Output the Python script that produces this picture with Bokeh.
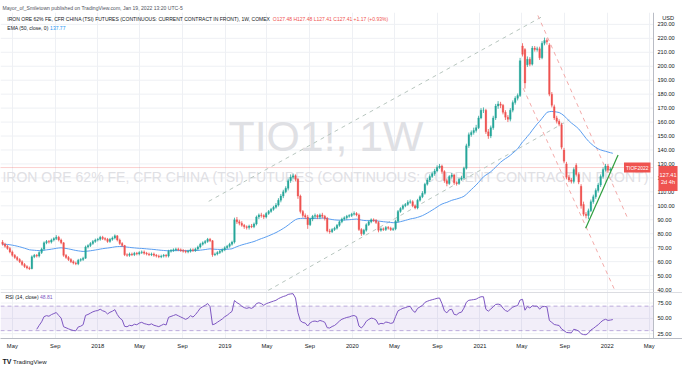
import numpy as np
import pandas as pd
from bokeh.plotting import figure
from bokeh.layouts import column
from bokeh.models import (Range1d, FixedTicker, Label, Span, Title,
                          BoxAnnotation, Grid, ColumnDataSource)
from bokeh.core.properties import value
from bokeh.embed import file_html
from bokeh.resources import INLINE

# ---------------- data (weekly bars) ----------------
week0 = "2017-04-03"
opens = [74.0, 72.5, 71.0, 69.5, 67.0, 64.5, 63.0, 61.5, 60.0, 58.0,
         56.5, 55.5, 55.0, 63.5, 64.5, 64.0, 66.5, 69.0, 73.5, 74.5,
         74.0, 75.5, 76.5, 77.5, 75.5, 73.5, 64.5, 63.0, 61.5, 60.0,
         59.0, 58.5, 61.0, 61.5, 62.5, 70.5, 71.5, 73.0, 74.5, 75.5,
         76.0, 77.5, 76.5, 76.0, 74.5, 76.0, 77.0, 78.5, 75.5, 73.0,
         71.5, 65.0, 64.5, 65.5, 65.0, 66.0, 65.5, 66.5, 67.0, 66.0,
         65.5, 65.0, 65.5, 64.5, 64.0, 63.5, 64.0, 64.5, 64.0, 67.5,
         68.0, 68.5, 69.0, 68.5, 68.0, 67.5, 67.0, 67.5, 68.5, 68.0,
         69.0, 70.5, 72.5, 73.5, 74.5, 76.0, 75.0, 65.0, 65.5, 66.5,
         67.5, 68.5, 70.0, 71.0, 72.5, 74.0, 90.0, 88.5, 87.5, 86.0,
         85.0, 84.5, 85.5, 85.0, 87.0, 92.0, 93.5, 93.0, 92.0, 94.5,
         96.0, 97.5, 99.0, 100.5, 104.0, 107.0, 110.0, 112.5, 118.0, 120.5,
         121.5, 119.0, 107.0, 96.0, 93.0, 92.0, 86.5, 90.5, 92.5, 93.0,
         92.0, 93.5, 92.5, 91.0, 82.0, 81.5, 83.0, 84.0, 86.0, 88.5,
         90.5, 91.5, 92.5, 93.0, 94.0, 94.5, 93.5, 83.0, 80.0, 82.5,
         86.5, 88.5, 90.0, 89.5, 88.0, 82.5, 83.5, 83.0, 84.5, 84.0,
         83.0, 83.5, 89.0, 96.0, 98.0, 100.0, 101.0, 102.5, 103.0, 100.0,
         98.5, 104.0, 106.5, 109.0, 115.5, 118.5, 121.0, 123.0, 125.0, 127.5,
         128.5, 124.5, 118.0, 116.0, 121.0, 122.0, 116.5, 116.0, 119.0, 120.0,
         127.0, 143.0, 151.0, 152.5, 154.0, 156.0, 163.0, 168.5, 168.5, 153.0,
         150.0, 156.0, 163.0, 171.5, 173.0, 172.0, 167.0, 163.5, 162.0, 168.5,
         174.0, 177.0, 179.0, 214.5, 212.0, 201.0, 205.0, 201.5, 213.0, 212.0,
         212.5, 206.0, 216.5, 218.5, 215.0, 180.0, 171.0, 163.0, 160.5, 158.0,
         140.0, 130.0, 120.5, 118.5, 117.5, 129.0, 122.5, 114.0, 101.0, 94.0,
         93.0, 96.5, 103.0, 106.5, 111.0, 115.0, 121.0, 126.0, 128.5, 125.5,
         127.48]
highs = [75.5, 73.5, 72.0, 70.5, 68.0, 65.5, 64.0, 62.5, 61.0, 59.0,
         57.5, 56.5, 64.5, 65.5, 65.5, 67.5, 70.0, 74.5, 75.5, 75.5,
         76.5, 77.5, 79.0, 78.5, 76.5, 74.0, 65.5, 64.0, 62.5, 61.0,
         60.0, 62.0, 62.5, 63.5, 71.5, 72.5, 74.0, 75.5, 76.5, 77.0,
         78.5, 78.5, 77.5, 77.0, 77.0, 78.0, 79.5, 79.0, 76.5, 74.0,
         72.0, 66.0, 66.5, 66.5, 67.0, 67.0, 67.5, 68.0, 68.0, 67.0,
         66.5, 66.5, 66.5, 65.5, 65.0, 65.0, 65.5, 65.5, 68.5, 69.0,
         69.5, 70.0, 70.0, 69.5, 69.0, 68.5, 68.5, 69.5, 69.5, 70.0,
         71.5, 73.5, 74.5, 75.5, 77.0, 77.0, 75.5, 66.5, 67.5, 68.5,
         69.5, 71.0, 72.0, 73.5, 75.0, 91.5, 92.0, 90.0, 89.0, 87.0,
         86.0, 86.5, 87.0, 88.0, 93.0, 94.5, 95.0, 94.0, 95.5, 97.0,
         98.5, 100.0, 102.0, 105.5, 108.5, 111.5, 114.0, 119.5, 122.5, 123.0,
         122.5, 120.0, 108.0, 97.0, 94.5, 93.5, 91.5, 93.5, 94.5, 94.0,
         94.5, 95.0, 93.5, 92.0, 83.5, 84.0, 85.0, 87.0, 89.5, 91.5,
         92.5, 93.5, 94.0, 95.0, 96.0, 95.5, 94.5, 84.0, 83.5, 87.5,
         89.5, 91.0, 91.0, 90.5, 89.0, 84.5, 84.5, 85.5, 85.5, 85.0,
         84.5, 90.0, 97.0, 99.0, 101.0, 102.0, 104.0, 104.5, 104.0, 101.0,
         105.0, 107.5, 110.5, 116.5, 120.0, 122.5, 124.5, 126.5, 129.0, 130.0,
         129.5, 125.5, 119.5, 122.0, 123.5, 123.0, 117.5, 120.0, 121.5, 128.0,
         144.5, 152.5, 154.0, 156.0, 158.0, 164.5, 170.0, 170.5, 169.5, 155.0,
         157.5, 164.5, 173.0, 175.0, 174.5, 173.0, 168.5, 165.0, 170.0, 175.5,
         178.5, 180.5, 206.0, 216.5, 213.0, 207.0, 206.5, 214.5, 214.5, 214.0,
         214.0, 218.0, 220.5, 220.0, 216.5, 181.5, 172.5, 164.5, 162.0, 159.5,
         141.5, 131.5, 122.0, 120.0, 127.5, 130.5, 124.0, 115.5, 103.0, 95.5,
         98.0, 104.5, 108.0, 112.5, 116.5, 122.5, 127.5, 130.0, 130.0, 127.5,
         127.48]
lows = [71.5, 70.0, 68.5, 66.0, 63.5, 62.0, 60.5, 59.0, 57.0, 55.5,
        54.5, 54.0, 54.5, 62.5, 63.0, 63.0, 65.5, 68.0, 72.5, 73.0,
        73.0, 74.5, 75.5, 74.5, 72.5, 63.5, 62.0, 60.5, 59.0, 58.0,
        57.5, 57.5, 60.0, 60.5, 62.0, 69.5, 70.5, 72.0, 73.5, 74.5,
        75.0, 75.5, 75.0, 73.5, 73.5, 75.0, 76.0, 74.5, 72.0, 70.5,
        64.0, 63.5, 63.5, 64.0, 64.0, 64.5, 64.5, 65.5, 65.0, 64.5,
        64.0, 64.0, 63.5, 63.0, 62.5, 62.5, 63.0, 63.0, 63.0, 66.5,
        67.0, 67.5, 67.5, 67.0, 66.5, 66.0, 66.0, 66.5, 67.0, 67.0,
        68.0, 69.5, 71.5, 72.5, 73.5, 74.0, 63.5, 64.0, 64.5, 65.5,
        66.5, 67.5, 69.0, 70.0, 71.5, 73.0, 87.0, 86.0, 85.0, 83.5,
        83.0, 83.0, 84.0, 84.0, 86.0, 90.5, 91.5, 90.5, 91.0, 93.5,
        95.0, 96.5, 98.0, 99.5, 102.5, 105.5, 109.0, 111.0, 116.5, 119.0,
        117.5, 105.0, 94.5, 91.5, 90.5, 83.5, 85.5, 89.0, 91.0, 90.5,
        90.5, 91.0, 89.5, 81.0, 80.0, 80.5, 82.0, 83.0, 85.0, 87.5,
        89.5, 90.0, 91.5, 92.0, 93.0, 92.5, 82.0, 78.5, 79.0, 81.5,
        85.5, 87.5, 88.5, 87.0, 81.0, 81.5, 82.0, 82.0, 83.0, 82.0,
        82.0, 82.5, 88.0, 95.0, 97.0, 99.0, 100.0, 101.5, 99.0, 97.5,
        97.5, 103.0, 105.5, 108.0, 114.5, 117.0, 120.0, 121.5, 124.0, 126.5,
        123.0, 116.5, 114.0, 115.0, 119.5, 115.0, 114.5, 115.0, 118.0, 119.0,
        126.0, 141.5, 149.5, 151.0, 152.5, 155.0, 162.0, 166.5, 151.5, 148.0,
        148.5, 154.5, 161.5, 169.5, 170.0, 165.5, 161.5, 160.0, 160.5, 167.0,
        172.5, 175.5, 178.0, 207.0, 184.0, 199.5, 200.0, 200.5, 210.5, 210.5,
        204.5, 205.0, 215.0, 215.5, 178.5, 170.5, 161.5, 159.0, 157.0, 140.5,
        130.5, 119.0, 117.0, 116.0, 116.0, 121.0, 115.5, 98.0, 92.5, 91.0,
        90.5, 95.5, 101.5, 105.0, 109.5, 113.5, 119.5, 124.5, 124.0, 124.5,
        127.41]
closes = [72.5, 71.0, 69.5, 67.0, 64.5, 63.0, 61.5, 60.0, 58.0, 56.5,
          55.5, 55.0, 63.5, 64.5, 64.0, 66.5, 69.0, 73.5, 74.5, 74.0,
          75.5, 76.5, 77.5, 75.5, 73.5, 64.5, 63.0, 61.5, 60.0, 59.0,
          58.5, 61.0, 61.5, 62.5, 70.5, 71.5, 73.0, 74.5, 75.5, 76.0,
          77.5, 76.5, 76.0, 74.5, 76.0, 77.0, 78.5, 75.5, 73.0, 71.5,
          65.0, 64.5, 65.5, 65.0, 66.0, 65.5, 66.5, 67.0, 66.0, 65.5,
          65.0, 65.5, 64.5, 64.0, 63.5, 64.0, 64.5, 64.0, 67.5, 68.0,
          68.5, 69.0, 68.5, 68.0, 67.5, 67.0, 67.5, 68.5, 68.0, 69.0,
          70.5, 72.5, 73.5, 74.5, 76.0, 75.0, 65.0, 65.5, 66.5, 67.5,
          68.5, 70.0, 71.0, 72.5, 74.0, 90.0, 88.5, 87.5, 86.0, 85.0,
          84.5, 85.5, 85.0, 87.0, 92.0, 93.5, 93.0, 92.0, 94.5, 96.0,
          97.5, 99.0, 100.5, 104.0, 107.0, 110.0, 112.5, 118.0, 120.5, 121.5,
          119.0, 107.0, 96.0, 93.0, 92.0, 86.5, 90.5, 92.5, 93.0, 92.0,
          93.5, 92.5, 91.0, 82.0, 81.5, 83.0, 84.0, 86.0, 88.5, 90.5,
          91.5, 92.5, 93.0, 94.0, 94.5, 93.5, 83.0, 80.0, 82.5, 86.5,
          88.5, 90.0, 89.5, 88.0, 82.5, 83.5, 83.0, 84.5, 84.0, 83.0,
          83.5, 89.0, 96.0, 98.0, 100.0, 101.0, 102.5, 103.0, 100.0, 98.5,
          104.0, 106.5, 109.0, 115.5, 118.5, 121.0, 123.0, 125.0, 127.5, 128.5,
          124.5, 118.0, 116.0, 121.0, 122.0, 116.5, 116.0, 119.0, 120.0, 127.0,
          143.0, 151.0, 152.5, 154.0, 156.0, 163.0, 168.5, 168.5, 153.0, 150.0,
          156.0, 163.0, 171.5, 173.0, 172.0, 167.0, 163.5, 162.0, 168.5, 174.0,
          177.0, 179.0, 204.0, 208.5, 188.0, 205.0, 201.5, 213.0, 212.0, 212.5,
          206.0, 216.5, 218.5, 217.5, 180.0, 172.0, 163.0, 160.5, 158.5, 142.0,
          132.0, 120.5, 118.5, 117.5, 126.0, 122.5, 117.0, 100.0, 94.0, 93.0,
          96.5, 103.0, 106.5, 111.0, 115.0, 121.0, 126.0, 128.5, 125.5, 126.24,
          127.41]

# drawn trend lines (date, price)
chan_upper_t = ["2018-11-15", "2021-06-25"]
chan_upper_p = [103.2, 235.1]
chan_lower_t = ["2019-04-15", "2021-09-14"]
chan_lower_p = [36.6, 161.6]
down_upper_t = ["2021-06-16", "2022-03-01"]
down_upper_p = [236.4, 90.8]
down_lower_t = ["2021-05-05", "2022-01-23"]
down_lower_p = [184.2, 39.3]
green_t = ["2021-10-31", "2022-02-01"]
green_p = [84.0, 136.4]

last_price = 127.41
price_ticks = list(range(40, 231, 10))
rsi_ticks = [25, 50, 75]
rsi_band = [30, 70]
tick_dates = ["2017-05-01", "2017-09-01", "2018-01-01", "2018-05-01", "2018-09-01",
              "2019-01-01", "2019-05-01", "2019-09-01", "2020-01-01", "2020-05-01",
              "2020-09-01", "2021-01-01", "2021-05-01", "2021-09-01", "2022-01-01",
              "2022-05-01"]
tick_labels = ["May", "Sep", "2018", "May", "Sep", "2019", "May", "Sep", "2020",
               "May", "Sep", "2021", "May", "Sep", "2022", "May"]

# ---------------- helpers ----------------
AW = {' ': 278, '!': 278, '%': 889, '(': 333, ')': 333, ',': 278, '-': 333, '.': 278,
      ':': 278, '_': 556, '+': 584,
      'A': 667, 'B': 667, 'C': 722, 'D': 722, 'E': 667, 'F': 611, 'G': 778, 'H': 722,
      'I': 278, 'J': 500, 'K': 667, 'L': 556, 'M': 833, 'N': 722, 'O': 778, 'P': 667,
      'Q': 778, 'R': 722, 'S': 667, 'T': 611, 'U': 722, 'V': 667, 'W': 944, 'X': 667,
      'Y': 667, 'Z': 611,
      'a': 556, 'b': 556, 'c': 500, 'd': 556, 'e': 556, 'f': 278, 'g': 556, 'h': 556,
      'i': 222, 'j': 222, 'k': 500, 'l': 222, 'm': 833, 'n': 556, 'o': 556, 'p': 556,
      'q': 556, 'r': 333, 's': 500, 't': 278, 'u': 556, 'v': 500, 'w': 722, 'x': 500,
      'y': 500, 'z': 500}


def tw(s, fs):
    return sum(AW.get(c, 556) for c in s) * fs / 1000.0


def ms(d):
    return pd.Timestamp(d).value // 10**6


FONT = "Liberation Sans"
UP, DN = "#26a69a", "#ef5350"
GRID = "#eef0f4"
AXC = "#b9bcc5"
TXT = "#131722"

W = 682            # whole width
FW = 653           # width of the chart panes (price scale to the right)
MH, RH = 280, 46   # pane heights
TOPB, AXB, FOOT = 12, 16, 14
SX = FW / 668.0
SY = MH / 292.0

dates = pd.date_range(week0, periods=len(closes), freq="7D")
o = np.array(opens); c = np.array(closes)
src = ColumnDataSource(dict(
    x=dates, top=np.maximum(o, c), bottom=np.minimum(o, c), hi=highs, lo=lows,
    color=[UP if cc >= oo else DN for oo, cc in zip(opens, closes)]))

ema = pd.Series(closes).ewm(span=50, adjust=False).mean()
delta = pd.Series(closes).diff()
gain = delta.clip(lower=0).ewm(alpha=1 / 14, adjust=False, min_periods=14).mean()
loss = (-delta.clip(upper=0)).ewm(alpha=1 / 14, adjust=False, min_periods=14).mean()
rsi_vals = 100 - 100 / (1 + gain / loss)

xs = ms("2017-03-28 02:00")
xe = ms("2022-05-13 14:00")           # right edge of the panes (price scale starts here)
x_full = xs + (xe - xs) * W / FW
x_range = Range1d(xs, x_full)
xt = [ms(d) for d in tick_dates]

hdr = "Mayor_of_Smiletown published on TradingView.com, Jan 19, 2022 13:20 UTC-5"
fs_hdr = 181 / tw(hdr, 1)
head = Title(text=hdr, align="left", offset=2, standoff=3, text_font=FONT,
             text_font_size=f"{fs_hdr:.2f}px", text_color="#50535e",
             text_font_style="normal")


def price_scale(fig, ticks):
    """horizontal grid limited to the pane, separator and right-hand scale labels"""
    n = len(ticks)
    fig.segment(x0=[xs] * n, x1=[xe] * n, y0=ticks, y1=ticks, line_color=GRID,
                line_width=1, level="underlay")
    fig.add_layout(Span(location=xe, dimension="height", line_color=AXC, line_width=1))
    fig.text(x=[xe] * n, y=ticks, text=[f"{t:.2f}" for t in ticks], x_offset=4,
             text_align="left", text_baseline="middle", text_font=value(FONT),
             text_font_size="5.6px", text_color=TXT)


# ---------------- main price pane ----------------
p = figure(frame_width=W, frame_height=MH, x_range=x_range, y_range=Range1d(37.9, 238.5),
           x_axis_location=None, y_axis_location=None,
           output_backend="svg", toolbar_location=None, title=head,
           min_border_left=0, min_border_right=0, min_border_top=TOPB, min_border_bottom=0,
           background_fill_color="white", border_fill_color="white")
p.outline_line_color = None
p.grid.visible = False
p.add_layout(Grid(dimension=0, ticker=FixedTicker(ticks=xt), grid_line_color=GRID))
price_scale(p, price_ticks)

# watermarks
wm1 = "TIO1!, 1W"
wm2 = "IRON ORE 62% FE, CFR CHINA (TSI) FUTURES (CONTINUOUS: CURRENT CONTRACT IN FRONT)"
p.add_layout(Label(x=333 * SX, y=MH - (142 - 13) * SY, x_units="screen", y_units="screen",
                   text=wm1, text_font=FONT, text_font_size=f"{195 / tw(wm1, 1):.1f}px",
                   text_color="#dfe0e4", text_align="center", text_baseline="middle",
                   level="underlay"))
p.add_layout(Label(x=333 * SX, y=MH - (185 - 13) * SY, x_units="screen", y_units="screen",
                   text=wm2, text_font=FONT, text_font_size=f"{648 / tw(wm2, 1):.1f}px",
                   text_color="#dfe0e4", text_align="center", text_baseline="middle",
                   level="underlay"))

# last price line (pane only)
p.segment(x0=[xs], x1=[xe], y0=[last_price], y1=[last_price], line_color=DN,
          line_alpha=0.55, line_dash="1 1", line_width=1)


def tl(ts, ps, color, dash=None, width=1.0, alpha=1.0):
    kw = dict(line_color=color, line_width=width, line_alpha=alpha)
    if dash:
        kw["line_dash"] = dash
    p.line([ms(t) for t in ts], ps, **kw)


tl(chan_upper_t, chan_upper_p, "#b8c6bf", "4 4")
tl(chan_lower_t, chan_lower_p, "#b8c6bf", "4 4")
tl(down_upper_t, down_upper_p, "#f3aaa9", "4 4")
tl(down_lower_t, down_lower_p, "#f3aaa9", "4 4")

# EMA and candles
p.line(dates, ema, line_color="#5b9ef0", line_width=1)
p.segment(x0="x", y0="hi", x1="x", y1="lo", line_color="color", line_width=0.8, source=src)
p.vbar(x="x", width=4.7 * 86400000, top="top", bottom="bottom", fill_color="color",
       line_color="color", line_width=0.3, source=src)
tl(green_t, green_p, "#2e9e3e", None, 1.2)

# legend texts inside the pane
t_main = "IRON ORE 62% FE, CFR CHINA (TSI) FUTURES (CONTINUOUS: CURRENT CONTRACT IN FRONT), 1W, COMEX"
t_vals = "O127.48 H127.48 L127.41 C127.41 +1.17 (+0.93%)"
fs_t = 264 / tw(t_main, 1)
x0 = 7 * SX
yt = MH - (20 - 13) * SY
p.add_layout(Label(x=x0, y=yt, x_units="screen", y_units="screen", text=t_main,
                   text_font=FONT, text_font_size=f"{fs_t:.2f}px", text_color=TXT,
                   text_baseline="middle"))
p.add_layout(Label(x=x0 + tw(t_main + " ", fs_t), y=yt, x_units="screen", y_units="screen",
                   text=t_vals, text_font=FONT, text_font_size=f"{fs_t:.2f}px",
                   text_color=DN, text_baseline="middle"))
e_lab = "EMA (50, close, 0)"
ye = MH - (29 - 13) * SY
p.add_layout(Label(x=x0, y=ye, x_units="screen", y_units="screen", text=e_lab,
                   text_font=FONT, text_font_size=f"{fs_t:.2f}px", text_color=TXT,
                   text_baseline="middle"))
p.add_layout(Label(x=x0 + tw(e_lab + " ", fs_t), y=ye, x_units="screen", y_units="screen",
                   text="137.77", text_font=FONT,
                   text_font_size=f"{fs_t:.2f}px", text_color="#2196f3",
                   text_baseline="middle"))

# price tags
p.add_layout(Label(x=FW - 3, y=last_price, x_units="screen", text="TIOF2022",
                   text_font=FONT, text_font_size="5px", text_color="white",
                   text_align="right", text_baseline="middle", background_fill_color=DN,
                   padding=2, level="overlay"))
p.add_layout(Label(x=FW + 14.5, y=last_price + 1.2, x_units="screen", text="127.41\n2d 4h",
                   text_font=FONT, text_font_size="5.6px", text_color="white",
                   text_align="center", text_baseline="top", background_fill_color=DN,
                   padding=(1, 6), level="overlay"))
p.add_layout(Label(x=FW + 15 * SX, y=MH - (19 - 13) * SY, x_units="screen", y_units="screen",
                   text="USD", text_font=FONT, text_font_size="5.6px", text_color=TXT,
                   text_align="center", text_baseline="middle"))

# ---------------- RSI pane ----------------
r = figure(frame_width=W, frame_height=RH, x_range=x_range, y_range=Range1d(17.2, 92.2),
           x_axis_type="datetime", y_axis_location=None, output_backend="svg",
           toolbar_location=None, min_border_left=0, min_border_right=0, min_border_top=0,
           min_border_bottom=AXB, background_fill_color="white", border_fill_color="white")
r.outline_line_color = None
r.grid.visible = False
r.add_layout(Grid(dimension=0, ticker=FixedTicker(ticks=xt), grid_line_color=GRID))
r.add_layout(BoxAnnotation(bottom=rsi_band[0], top=rsi_band[1], right=xe,
                           fill_color="#7e57c2", fill_alpha=0.1, line_color=None))
r.segment(x0=[xs] * 2, x1=[xe] * 2, y0=rsi_band, y1=rsi_band, line_color="#9c87c9",
          line_dash="4 3", line_width=0.8, line_alpha=0.8)
price_scale(r, rsi_ticks)
r.line(dates, rsi_vals, line_color="#7e57c2", line_width=1)
r.add_layout(Span(location=92.2, dimension="width", line_color=AXC, line_width=1))

rx = r.xaxis[0]
rx.ticker = FixedTicker(ticks=xt)
rx.major_label_overrides = {t: lab for t, lab in zip(xt, tick_labels)}
rx.major_label_text_font = FONT
rx.major_label_text_font_size = "5.8px"
rx.major_label_text_color = TXT
rx.major_tick_out = 0
rx.major_tick_in = 0
rx.minor_tick_out = 0
rx.minor_tick_in = 0
rx.major_label_standoff = 4
rx.axis_line_color = AXC

rs = "RSI (14, close)"
yr = RH - (311 - 306) * SY
r.add_layout(Label(x=5 * SX, y=yr, x_units="screen", y_units="screen", text=rs,
                   text_font=FONT, text_font_size=f"{fs_t:.2f}px", text_color=TXT,
                   text_baseline="middle"))
r.add_layout(Label(x=5 * SX + tw(rs + " ", fs_t), y=yr, x_units="screen", y_units="screen",
                   text="48.81", text_font=FONT, text_font_size=f"{fs_t:.2f}px",
                   text_color="#7e57c2", text_baseline="middle"))

# ---------------- footer ----------------
f = figure(frame_width=W, frame_height=FOOT, x_range=Range1d(0, W), y_range=Range1d(0, FOOT),
           x_axis_location=None, y_axis_location=None, output_backend="svg",
           toolbar_location=None, min_border=0, background_fill_color="white",
           border_fill_color="white")
f.outline_line_color = None
f.grid.visible = False
f.add_layout(Label(x=2, y=FOOT / 2, x_units="screen", y_units="screen", text="TV",
                   text_font=FONT, text_font_size="7px", text_font_style="bold",
                   text_color=TXT, text_baseline="middle"))
f.add_layout(Label(x=12.5, y=FOOT / 2, x_units="screen", y_units="screen",
                   text="TradingView", text_font=FONT, text_font_size="6.1px",
                   text_color=TXT, text_baseline="middle"))

layout = column(p, r, f, spacing=0)
open("out.html", "w").write(file_html(layout, INLINE))
